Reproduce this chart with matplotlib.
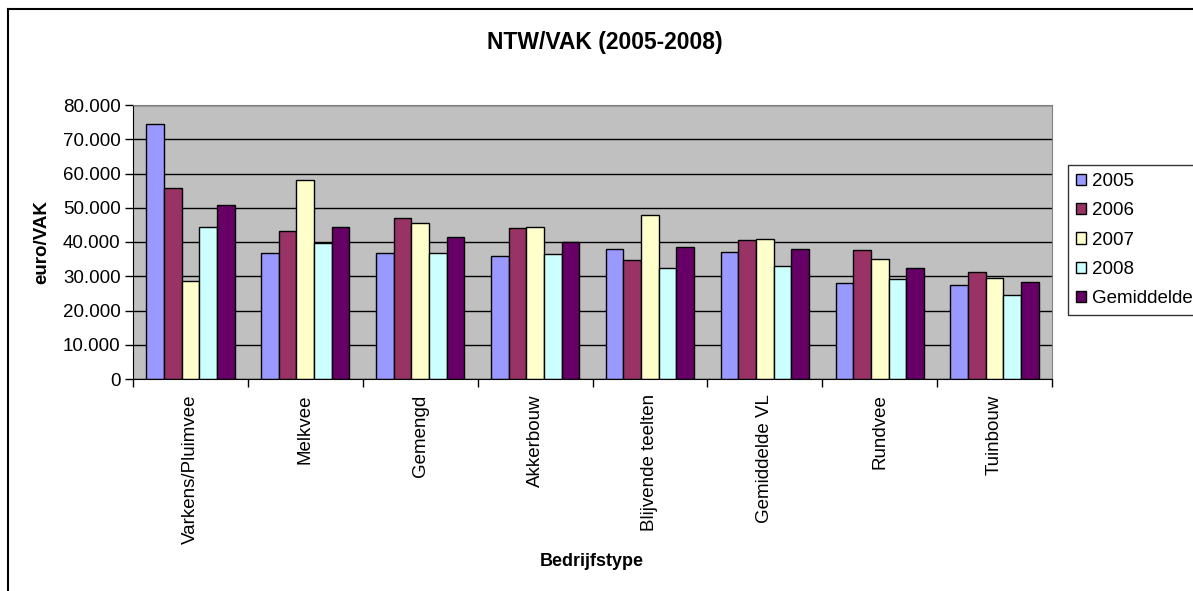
import numpy as np
import matplotlib
matplotlib.use('Agg')
import matplotlib.pyplot as plt
from matplotlib.ticker import FuncFormatter
from matplotlib.lines import Line2D

plt.rcParams['font.family'] = ['Liberation Sans', 'DejaVu Sans']

categories = ['Varkens/Pluimvee', 'Melkvee', 'Gemengd', 'Akkerbouw',
              'Blijvende teelten', 'Gemiddelde VL', 'Rundvee', 'Tuinbouw']
series_names = ['2005', '2006', '2007', '2008', 'Gemiddelde']

v2005 = [74500, 36800, 36700, 35900, 38000, 37200, 27900, 27400]
v2006 = [55800, 43100, 47000, 44100, 34600, 40500, 37600, 31200]
v2007 = [28600, 58000, 45600, 44500, 47800, 41000, 35100, 29600]
v2008 = [44400, 39700, 36700, 36400, 32500, 32900, 29100, 24500]
vgem = [50700, 44400, 41500, 40100, 38500, 38100, 32500, 28200]

colors = ['#9999FF', '#993366', '#FFFFCC', '#CCFFFF', '#660066']

fig = plt.figure(figsize=(11.93, 5.91), dpi=100)
ax = fig.add_axes([133/1193, 1 - 379/591, (1052 - 133)/1193, (379 - 105)/591])

x = np.arange(len(categories))
bw = 1 / 6.5
series = [v2005, v2006, v2007, v2008, vgem]
for i, vals in enumerate(series):
    ax.bar(x + (i - 2) * bw, vals, width=bw, color=colors[i], edgecolor='black',
           linewidth=1, label=series_names[i], zorder=3)

ax.set_facecolor('#C0C0C0')
ax.set_xlim(-0.5, len(categories) - 0.5)
ax.set_ylim(0, 80000)
ax.set_yticks(np.arange(0, 80001, 10000))
ax.yaxis.set_major_formatter(FuncFormatter(lambda v, p: '0' if v == 0 else f'{int(v):,}'.replace(',', '.')))
ax.grid(axis='y', color='black', linewidth=1, zorder=1)

# category labels in the middle, ticks on the boundaries
ax.set_xticks(x)
ax.set_xticklabels(categories, rotation=90, fontsize=13.5)
ax.tick_params(axis='x', length=0, pad=11)
ax.set_xticks(np.arange(-0.5, len(categories)), minor=True)
ax.tick_params(axis='x', which='minor', length=6, width=1, color='black')
ax.tick_params(axis='y', length=6, width=1, labelsize=13.5, pad=3)

for s in ['top', 'right']:
    ax.spines[s].set_color('#808080')
ax.spines['left'].set_color('black')
ax.spines['bottom'].set_color('black')
ax.spines['bottom'].set_zorder(4)

fig.text(605/1193, 1 - 42/591, 'NTW/VAK (2005-2008)', ha='center', va='center',
         fontsize=16.5, fontweight='bold')
fig.text(42/1193, 1 - 242/591, 'euro/VAK', ha='center', va='center', rotation=90,
         fontsize=13.5, fontweight='bold')
fig.text(592/1193, 1 - 562/591, 'Bedrijfstype', ha='center', va='center',
         fontsize=13, fontweight='bold')

leg = fig.legend(loc='upper left', bbox_to_anchor=(1068/1193, 1 - 165/591),
                 fontsize=13.5, frameon=True, fancybox=False, borderaxespad=0,
                 handlelength=0.55, handleheight=0.55, handletextpad=0.3,
                 labelspacing=0.66, borderpad=0.42)
leg.get_frame().set_edgecolor('black')
leg.get_frame().set_linewidth(1)

# outer chart frame
fig.add_artist(Line2D([8/1193, 8/1193], [0, 1 - 9/591], color='black', linewidth=1.5))
fig.add_artist(Line2D([8/1193, 1], [1 - 9/591, 1 - 9/591], color='black', linewidth=1.5))

fig.savefig('out.png', dpi=100)
